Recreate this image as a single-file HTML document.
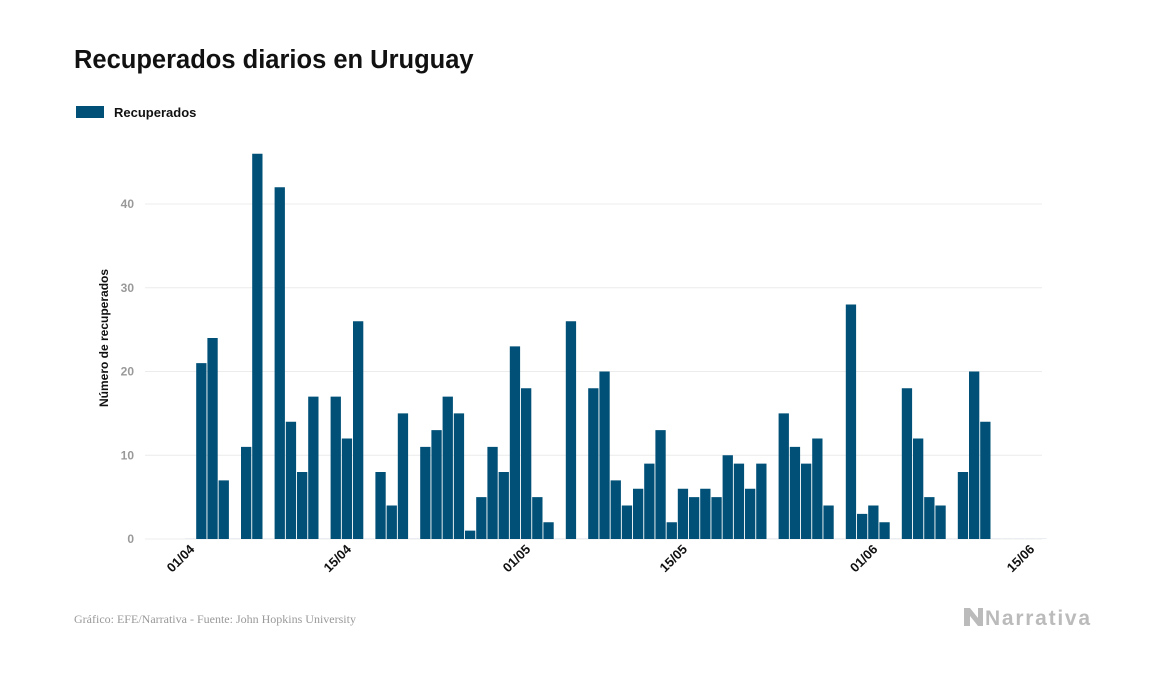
<!DOCTYPE html>
<html><head><meta charset="utf-8"><style>
body{margin:0;background:#fff;width:1157px;height:674px;overflow:hidden;font-family:"Liberation Sans",sans-serif}
</style></head><body>
<svg width="1157" height="674" viewBox="0 0 1157 674">
<text x="74" y="68" font-size="25.5" font-weight="bold" fill="#111">Recuperados diarios en Uruguay</text>
<rect x="76" y="106" width="28" height="12" fill="#005077"/>
<text x="114" y="117" font-size="13" font-weight="bold" fill="#111">Recuperados</text>
<g id="grid"></g><g id="bars"></g><g id="xt"></g>
<text transform="translate(108,338) rotate(-90)" text-anchor="middle" font-size="12" font-weight="bold" fill="#111">Número de recuperados</text>
<text x="74" y="623" font-size="12" fill="#999" font-family="Liberation Serif,serif">Gráfico: EFE/Narrativa - Fuente: John Hopkins University</text>
<g>
<path d="M964 608 l6 0 l8 10 l0 -10 l5 0 l0 18 l-5 0 l-8 -10 l0 10 l-6 0 z" fill="#bbb"/>
<text x="985" y="625" font-size="21" font-weight="bold" fill="#bbb" textLength="105">Narrativa</text>
</g>
</svg>
<script>
const values=[0,21,24,7,0,11,46,0,42,14,8,17,0,17,12,26,0,8,4,15,0,11,13,17,15,1,5,11,8,23,18,5,2,0,26,0,18,20,7,4,6,9,13,2,6,5,6,5,10,9,6,9,0,15,11,9,12,4,0,28,3,4,2,0,18,12,5,4,0,8,20,14,0,0,0,0,0];
const yTicks=[0,10,20,30,40];
const xTickLabels=["01/04","15/04","01/05","15/05","01/06","15/06"];
const xTickIdx=[1,15,31,45,62,76];
const NS="http://www.w3.org/2000/svg";
const x=i=>185+i*11.2, y=v=>539-v*8.375;
function mk(t,a,p){const e=document.createElementNS(NS,t);for(const k in a)e.setAttribute(k,a[k]);p.appendChild(e);return e;}
const g=document.getElementById('grid');
yTicks.forEach(v=>{
 const l=mk('line',{x1:145,x2:1042,y1:y(v),y2:y(v),stroke:'#ececec','stroke-width':1},g);
 
 
 const t=mk('text',{x:134,y:y(v)+4,'text-anchor':'end','font-size':12,fill:'#999','font-weight':'bold'},g);
 t.textContent=v;
 
 
});
const b=document.getElementById('bars');
values.forEach((v,i)=>{
 const h=Math.max(v*8.375,0.8);
 const r=mk('rect',{x:x(i),y:539-h,width:10.3,height:h,fill:v>0?'#005077':'#e4eaee'},b);
 
 
});
const xt=document.getElementById('xt');
xTickLabels.forEach((s,k)=>{
 const cx=x(xTickIdx[k])-1, cy=550;
 const t=mk('text',{transform:`translate(${cx},${cy}) rotate(-45)`,'text-anchor':'end','font-size':13,'font-weight':'bold',fill:'#111'},xt);
 t.textContent=s;
 
 
});
</script>
</body></html>
